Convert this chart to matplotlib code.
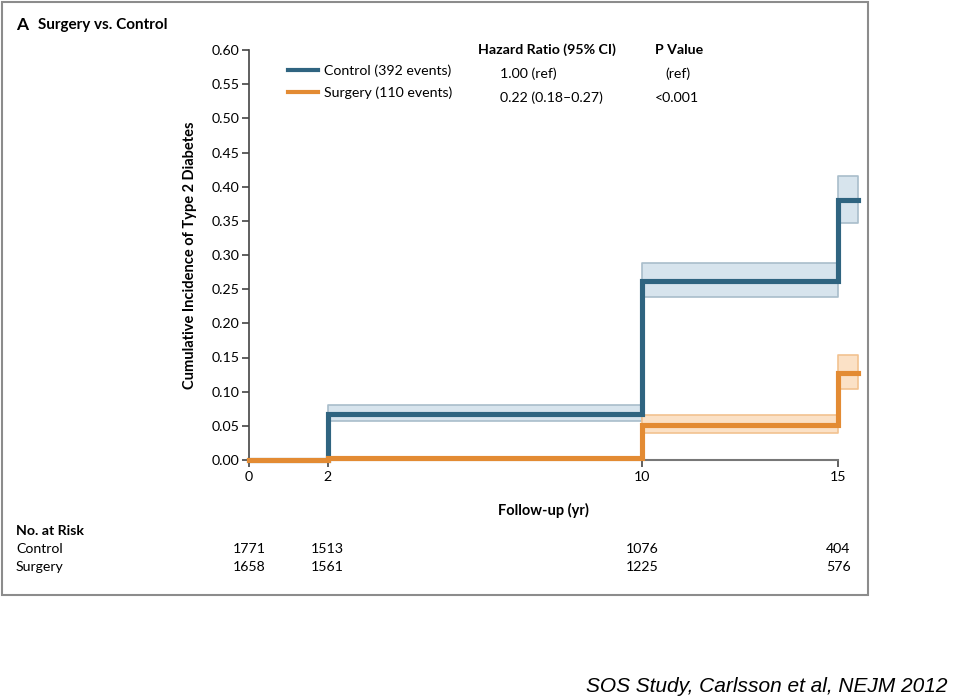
import matplotlib.pyplot as plt
from matplotlib.lines import Line2D
from matplotlib.patches import Rectangle

# step data (years, cumulative incidence)
times = [0, 2, 10, 15, 15.5]
control_inc = [0.0, 0.067, 0.262, 0.380, 0.380]
surgery_inc = [0.0, 0.003, 0.051, 0.127, 0.127]

# 95% CI per interval
control_lo = [0.0, 0.057, 0.239, 0.347]
control_hi = [0.0, 0.080, 0.288, 0.416]
surgery_lo = [0.0, 0.0, 0.040, 0.104]
surgery_hi = [0.0, 0.0, 0.066, 0.154]

risk_years = [0, 2, 10, 15]
control_risk = [1771, 1513, 1076, 404]
surgery_risk = [1658, 1561, 1225, 576]

x_ticks = [0, 2, 10, 15]
y_ticks = [0.00, 0.05, 0.10, 0.15, 0.20, 0.25, 0.30, 0.35, 0.40, 0.45, 0.50, 0.55, 0.60]

c_ctrl = "#2f6480"
c_surg = "#e38b33"

plt.rcParams['font.family'] = ['Lato', 'DejaVu Sans']

W, H = 960, 700
fig = plt.figure(figsize=(9.6, 7), dpi=100)

def fx(px):
    return px / W

def fy(py):
    return 1 - py / H

# axes: x 0 at px 249, 15 at px 838 ; y 0 at px 460, 0.6 at px 50
ax = fig.add_axes([fx(249), fy(460), fx(858) - fx(249), fy(50) - fy(460)])
ax.set_xlim(0, 15.5)
ax.set_ylim(0, 0.6)

# confidence bands, one box per interval
for i in range(len(times) - 1):
    x0, x1 = times[i], times[i + 1]
    if control_hi[i] > control_lo[i]:
        ax.fill_between([x0, x1], [control_lo[i]] * 2, [control_hi[i]] * 2,
                        facecolor="#d7e4ed", edgecolor="#a9bdcb", lw=1.2, zorder=2)
    if surgery_hi[i] > surgery_lo[i]:
        ax.fill_between([x0, x1], [surgery_lo[i]] * 2, [surgery_hi[i]] * 2,
                        facecolor="#fbe1c6", edgecolor="#f2c290", lw=1.2, zorder=2)

ax.step(times, control_inc, where='post', color=c_ctrl, lw=3.7, zorder=4, clip_on=False,
        solid_joinstyle='miter')
ax.step(times, surgery_inc, where='post', color=c_surg, lw=3.7, zorder=5, clip_on=False,
        solid_joinstyle='miter')

for s in ['top', 'right']:
    ax.spines[s].set_visible(False)
ax.spines['left'].set_color('#444444')
ax.spines['bottom'].set_color('#777777')
ax.spines['bottom'].set_bounds(0, 15)
ax.spines['left'].set_linewidth(1.2)
ax.spines['bottom'].set_linewidth(1.5)

ax.set_xticks(x_ticks)
ax.set_yticks(y_ticks)
ax.set_yticklabels([f"{v:.2f}" for v in y_ticks])
ax.tick_params(axis='both', direction='out', length=5, width=1.2, colors='#444444',
               labelsize=10.2, labelcolor='black')
ax.tick_params(axis='y', pad=2)
ax.tick_params(axis='x', pad=3)

ax.set_xlabel("Follow-up (yr)", fontsize=10.5, fontweight='bold')
ax.xaxis.set_label_coords((543 - 249) / (858 - 249), -(503 - 460) / 410)
fig.text(fx(190), fy(255), "Cumulative Incidence of Type 2 Diabetes", rotation=90,
         fontsize=10.5, fontweight='bold', ha='center', va='center')

# title
fig.text(fx(16), fy(25), "A", fontsize=12.5, fontweight='bold', ha='left', va='center')
fig.text(fx(38), fy(25), "Surgery vs. Control", fontsize=11, fontweight='bold',
         ha='left', va='center')

# legend
handles = [Line2D([], [], color=c_ctrl, lw=3),
           Line2D([], [], color=c_surg, lw=3)]
fig.legend(handles, ["Control (392 events)", "Surgery (110 events)"],
           loc='upper left', bbox_to_anchor=(fx(288), fy(64)), frameon=False,
           fontsize=10.2, handlelength=2.1, handletextpad=0.45, labelspacing=0.7,
           borderpad=0, borderaxespad=0)

# hazard ratio table
fig.text(fx(478), fy(50), "Hazard Ratio (95% CI)", fontsize=10.2, fontweight='bold',
         ha='left', va='center')
fig.text(fx(655), fy(50), "P Value", fontsize=10.2, fontweight='bold', ha='left', va='center')
fig.text(fx(500), fy(74), "1.00 (ref)", fontsize=10.2, ha='left', va='center')
fig.text(fx(500), fy(98), "0.22 (0.18\u20130.27)", fontsize=10.2, ha='left', va='center')
fig.text(fx(665), fy(74), "(ref)", fontsize=10.2, ha='left', va='center')
fig.text(fx(655), fy(98), "<0.001", fontsize=10.2, ha='left', va='center')

# number at risk
fig.text(fx(16), fy(531), "No. at Risk", fontsize=10.2, fontweight='bold', ha='left', va='center')
fig.text(fx(16), fy(549), "Control", fontsize=10.2, ha='left', va='center')
fig.text(fx(16), fy(567), "Surgery", fontsize=10.2, ha='left', va='center')
for yr, c, s in zip(risk_years, control_risk, surgery_risk):
    xa = fig.transFigure.inverted().transform(ax.transData.transform((yr, 0)))[0]
    fig.text(xa, fy(549), str(c), fontsize=10.2, ha='center', va='center')
    fig.text(xa, fy(567), str(s), fontsize=10.2, ha='center', va='center')

# outer frame
fig.patches.append(Rectangle((fx(2), fy(595)), fx(866), fy(2) - fy(595),
                             transform=fig.transFigure, fill=False,
                             edgecolor='#8c8c8c', lw=1.5))

fig.text(fx(948), fy(686), "SOS Study, Carlsson et al, NEJM 2012", fontsize=15,
         fontstyle='italic', family='Liberation Sans', ha='right', va='center')

fig.savefig("out.png", dpi=100)
